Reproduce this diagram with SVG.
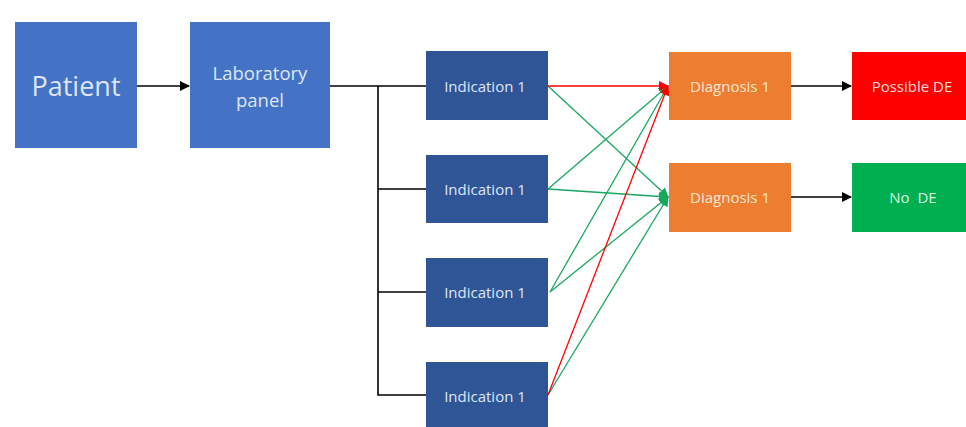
<svg xmlns="http://www.w3.org/2000/svg" width="966" height="427" viewBox="0 0 966 427">
<style>
text{font-family:"Open Sans","Liberation Sans",sans-serif;fill:#dde6f5;text-anchor:middle;dominant-baseline:central;font-size:15px}
.lt{fill:#4472c4}
.ind{fill:#2f5597}
.dg{fill:#ed7d31}
.td{fill:#fde6cf}
.tr{fill:#ffdada}
.tg{fill:#d8f5e2}
.k{stroke:#000;stroke-width:1.6;fill:none}
.r{stroke:#ff0000;stroke-width:1.3;fill:none}
.g{stroke:#18a860;stroke-width:1.3;fill:none}
</style>
<defs>
<marker id="ak" markerWidth="10" markerHeight="10" refX="9" refY="5" orient="auto" markerUnits="userSpaceOnUse"><path d="M0,0 L10,5 L0,10 z" fill="#000"/></marker>
<marker id="ar" markerWidth="10" markerHeight="10" refX="9" refY="5" orient="auto" markerUnits="userSpaceOnUse"><path d="M0,0 L10,5 L0,10 z" fill="#ff0000"/></marker>
<marker id="ag" markerWidth="10" markerHeight="10" refX="9" refY="5" orient="auto" markerUnits="userSpaceOnUse"><path d="M0,0 L10,5 L0,10 z" fill="#18a860"/></marker>
</defs>
<rect width="966" height="427" fill="#fff"/>
<g id="connectors">
<line class="k" x1="137" y1="86" x2="189" y2="86" marker-end="url(#ak)"/>
<line class="k" x1="330" y1="86" x2="426" y2="86"/>
<polyline class="k" points="378,86 378,395 426,395"/>
<line class="k" x1="378" y1="189" x2="426" y2="189"/>
<line class="k" x1="378" y1="292" x2="426" y2="292"/>
<line class="k" x1="791" y1="86" x2="851" y2="86" marker-end="url(#ak)"/>
<line class="k" x1="791" y1="197" x2="851" y2="197" marker-end="url(#ak)"/>
<line class="g" x1="548" y1="86" x2="668" y2="197" marker-end="url(#ag)"/>
<line class="g" x1="548" y1="189" x2="668" y2="86" marker-end="url(#ag)"/>
<line class="g" x1="548" y1="189" x2="668" y2="197" marker-end="url(#ag)"/>
<line class="g" x1="550" y1="292" x2="668" y2="86" marker-end="url(#ag)"/>
<line class="g" x1="550" y1="292" x2="668" y2="197" marker-end="url(#ag)"/>
<line class="g" x1="548" y1="395" x2="668" y2="197" marker-end="url(#ag)"/>
<line class="r" x1="548" y1="395" x2="668" y2="86" marker-end="url(#ar)"/>
<line class="r" x1="548" y1="86" x2="668" y2="86" marker-end="url(#ar)"/>
</g>
<g id="patient"><rect class="lt" x="15" y="22" width="122" height="126"/><text x="76" y="85" style="font-size:27px">Patient</text></g>
<g id="lab"><rect class="lt" x="190" y="22" width="140" height="126"/><text x="260" y="72" style="font-size:18.5px">Laboratory</text><text x="260" y="99" style="font-size:18.5px">panel</text></g>
<g id="ind1"><rect class="ind" x="426" y="51" width="122" height="69"/><text x="485" y="86">Indication 1</text></g>
<g id="ind2"><rect class="ind" x="426" y="155" width="122" height="68"/><text x="485" y="189">Indication 1</text></g>
<g id="ind3"><rect class="ind" x="426" y="258" width="122" height="69"/><text x="485" y="292">Indication 1</text></g>
<g id="ind4"><rect class="ind" x="426" y="362" width="122" height="68"/><text x="485" y="396">Indication 1</text></g>
<g id="diag1"><rect class="dg" x="669" y="52" width="122" height="68"/><text class="td" x="730" y="86">Diagnosis 1</text></g>
<g id="diag2"><rect class="dg" x="669" y="163" width="122" height="69"/><text class="td" x="730" y="197">Diagnosis 1</text></g>
<g id="possible"><rect x="852" y="52" width="114" height="68" fill="#ff0000"/><text class="tr" x="912" y="86">Possible DE</text></g>
<g id="node"><rect x="852" y="163" width="114" height="69" fill="#00b050"/><text class="tg" x="913" y="197" xml:space="preserve">No  DE</text></g>
</svg>
